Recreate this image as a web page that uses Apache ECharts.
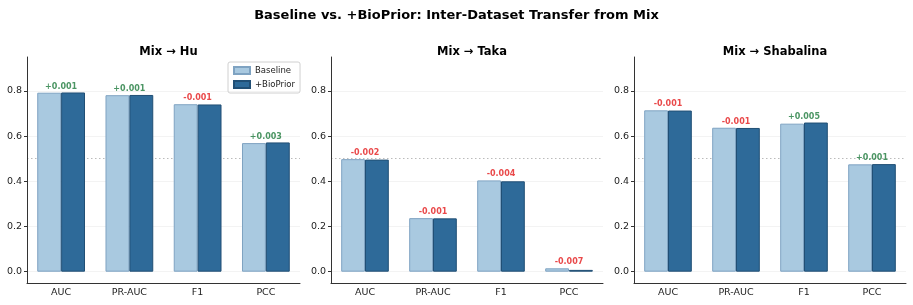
<!DOCTYPE html>
<html><head><meta charset="utf-8">
<script src="https://cdn.jsdelivr.net/npm/echarts@6/dist/echarts.min.js"></script>
<style>html,body{margin:0;padding:0;background:#fff}#c{width:913px;height:305px}</style>
</head><body><div id="c"></div>
<script>
const categories = ['AUC', 'PR-AUC', 'F1', 'PCC'];
const panelTitles = ['Mix \u2192 Hu', 'Mix \u2192 Taka', 'Mix \u2192 Shabalina'];
const huBaseline = [0.792, 0.781, 0.741, 0.569];
const huBioPrior = [0.793, 0.782, 0.740, 0.572];
const huDelta = ['+0.001', '+0.001', '-0.001', '+0.003'];
const takaBaseline = [0.498, 0.237, 0.404, 0.015];
const takaBioPrior = [0.496, 0.236, 0.400, 0.008];
const takaDelta = ['-0.002', '-0.001', '-0.004', '-0.007'];
const shaBaseline = [0.714, 0.637, 0.655, 0.475];
const shaBioPrior = [0.713, 0.636, 0.660, 0.476];
const shaDelta = ['-0.001', '-0.001', '+0.005', '+0.001'];
const yTicks = [0, 0.2, 0.4, 0.6, 0.8];

const panels = [
  {b: huBaseline, p: huBioPrior, d: huDelta},
  {b: takaBaseline, p: takaBioPrior, d: takaDelta},
  {b: shaBaseline, p: shaBioPrior, d: shaDelta}
];
const lefts = [27, 331, 634];
const widths = [273, 272, 272];
const font = 'DejaVu Sans';
const chart = echarts.init(document.getElementById('c'));
const grids = [], xAxes = [], yAxes = [], series = [], titles = [];
titles.push({text: 'Baseline vs. +BioPrior: Inter-Dataset Transfer from Mix', left: 'center', top: 4,
  textStyle: {fontFamily: font, fontSize: 13, fontWeight: 'bold', color: '#000'}});
panels.forEach((pn, i) => {
  grids.push({left: lefts[i], width: widths[i], top: 57, bottom: 22, containLabel: false});
  titles.push({text: panelTitles[i], left: lefts[i] + widths[i] / 2, top: 41, textAlign: 'center',
    textStyle: {fontFamily: font, fontSize: 11.5, fontWeight: 'bold', color: '#000'}});
  xAxes.push({type: 'category', gridIndex: i, data: categories, boundaryGap: true,
    axisLine: {onZero: false, lineStyle: {color: '#333', width: 1}},
    axisTick: {alignWithLabel: true, length: 3, lineStyle: {color: '#333'}},
    axisLabel: {fontFamily: font, fontSize: 9.5, color: '#222', margin: 5},
    splitLine: {show: false}});
  yAxes.push({type: 'value', gridIndex: i, min: -0.05, max: 0.95,
    axisLine: {show: true, onZero: false, lineStyle: {color: '#333', width: 1}},
    axisTick: {show: true, length: 3, lineStyle: {color: '#333'}, customValues: yTicks},
    axisLabel: {fontFamily: font, fontSize: 9.5, color: '#222', margin: 5, customValues: yTicks,
      formatter: v => v.toFixed(1)},
    splitLine: {show: false}});
  series.push({name: 'Baseline', type: 'bar', xAxisIndex: i, yAxisIndex: i, data: pn.b,
    barWidth: '35%', barGap: '0%',
    itemStyle: {color: '#a9c9e0', borderColor: '#7fa3c2', borderWidth: 1},
    markLine: {silent: true, symbol: 'none', label: {show: false}, z: 0,
      data: yTicks.map(t => ({yAxis: t, lineStyle: {type: 'solid', color: '#f0f0f0', width: 0.8}}))
        .concat([{yAxis: 0.5, lineStyle: {type: [1.5, 2.5], color: '#bbbbbb', width: 1}}])}});
  series.push({name: '+BioPrior', type: 'bar', xAxisIndex: i, yAxisIndex: i, data: pn.p,
    barWidth: '35%', barGap: '0%',
    itemStyle: {color: '#2e6a99', borderColor: '#214f75', borderWidth: 1}});
  series.push({type: 'scatter', xAxisIndex: i, yAxisIndex: i, symbolSize: 0, silent: true,
    data: pn.b.map((v, k) => ({value: Math.max(v, pn.p[k]),
      label: {color: pn.d[k].startsWith('-') ? '#e31a1c' : '#1e7a3c'}})),
    label: {show: true, position: 'top', distance: 2, fontFamily: font, fontSize: 8, fontWeight: 'bold',
      formatter: p => pn.d[p.dataIndex]}});
});
chart.setOption({
  animation: false,
  title: titles,
  grid: grids, xAxis: xAxes, yAxis: yAxes, series: series,
  legend: {data: ['Baseline', '+BioPrior'], orient: 'vertical', left: 228, top: 62, itemWidth: 16, itemHeight: 7,
    icon: 'rect', itemGap: 5, padding: [4, 5, 4, 5], borderColor: '#d0d0d0', borderWidth: 1, borderRadius: 2,
    textStyle: {fontFamily: font, fontSize: 8.5, color: '#222'}}
});
</script></body></html>
